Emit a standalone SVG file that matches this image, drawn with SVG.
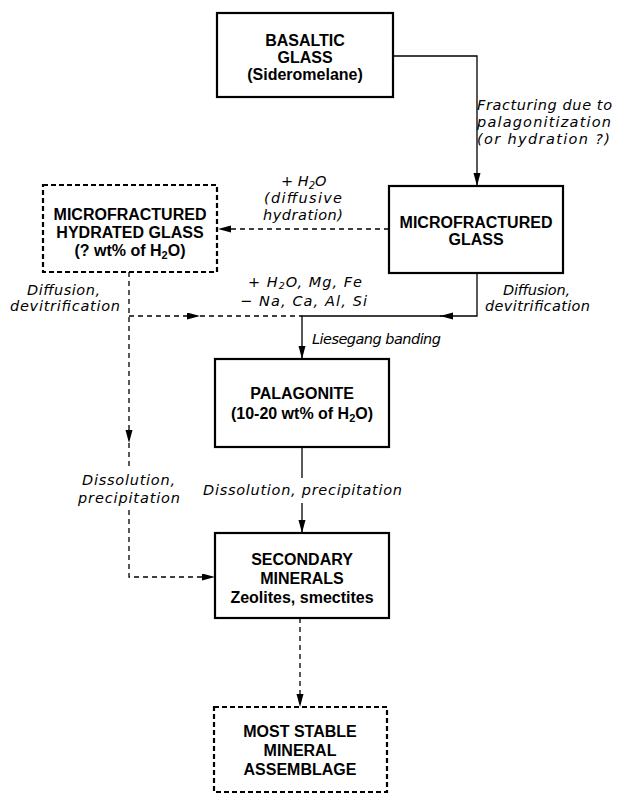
<svg xmlns="http://www.w3.org/2000/svg" width="624" height="794" viewBox="0 0 624 794">
<style>
  .box { fill: #fff; stroke: #000; stroke-width: 2.2; }
  .dbox { fill: #fff; stroke: #000; stroke-width: 2.2; stroke-dasharray: 5 3; }
  .nt { font-family: "Liberation Sans", Arial, sans-serif; font-weight: bold; font-size: 16px; text-anchor: middle; fill: #000; }
  .lb { font-family: "DejaVu Sans", "Liberation Sans", sans-serif; font-style: italic; font-size: 14.5px; fill: #000; }
  .ln { fill: none; stroke: #000; stroke-width: 1.3; }
  .dl { fill: none; stroke: #000; stroke-width: 1.3; stroke-dasharray: 5 4; }
</style>
<defs>
  <marker id="ah" markerUnits="userSpaceOnUse" markerWidth="14" markerHeight="8" refX="13" refY="3.5" orient="auto">
    <path d="M0,0 L13,3.5 L0,7 z" fill="#000"/>
  </marker>
</defs>
<rect width="624" height="794" fill="#fff"/>

<g id="connectors">
  <path class="ln" d="M393,56 H477 V186" marker-end="url(#ah)"/>
  <path class="dl" d="M389,229 H218" marker-end="url(#ah)"/>
  <path class="ln" d="M477,273 V316 H440" marker-end="url(#ah)"/>
  <path class="ln" d="M441,316 H302 V359" marker-end="url(#ah)"/>
  <path class="dl" d="M129,272 V443" marker-end="url(#ah)"/>
  <path class="dl" d="M129,443 V467"/>
  <path class="dl" d="M129,510 V577 H215" marker-end="url(#ah)"/>
  <path class="dl" d="M129,316 H200" marker-end="url(#ah)"/>
  <path class="dl" d="M200,316 H302"/>
  <path class="ln" d="M302,447 V478"/>
  <path class="ln" d="M302,503 V533" marker-end="url(#ah)"/>
  <path class="dl" d="M300,618 V707" marker-end="url(#ah)"/>
</g>

<g id="labels">
  <text class="lb" x="477" y="110" textLength="135">Fracturing due to</text>
  <text class="lb" x="477" y="127" textLength="134">palagonitization</text>
  <text class="lb" x="477" y="144" textLength="133">(or hydration ?)</text>
  <text class="lb" x="281" y="186">+ H<tspan dy="3" font-size="10">2</tspan><tspan dy="-3">O</tspan></text>
  <text class="lb" x="264" y="203" textLength="78">(diffusive</text>
  <text class="lb" x="263" y="220" textLength="80">hydration)</text>
  <text class="lb" x="248" y="287" font-size="14" letter-spacing="1">+ H<tspan dy="2" font-size="9.5">2</tspan><tspan dy="-2">O, Mg, Fe</tspan></text>
  <text class="lb" x="240" y="306" font-size="14" textLength="127">− Na, Ca, Al, Si</text>
  <text class="lb" x="27" y="295" textLength="73">Diffusion,</text>
  <text class="lb" x="10" y="311" textLength="110">devitrification</text>
  <text class="lb" x="503" y="295" textLength="67">Diffusion,</text>
  <text class="lb" x="485" y="311" textLength="105">devitrification</text>
  <text class="lb" x="312" y="344" textLength="129">Liesegang banding</text>
  <text class="lb" x="203" y="495" textLength="199">Dissolution, precipitation</text>
  <text class="lb" x="82" y="485" textLength="93">Dissolution,</text>
  <text class="lb" x="78" y="503" textLength="102">precipitation</text>
</g>

<g id="basaltic-glass">
  <rect class="box" x="217" y="13" width="176" height="84"/>
  <text class="nt" x="305" y="46">BASALTIC</text>
  <text class="nt" x="305" y="63">GLASS</text>
  <text class="nt" x="305" y="80">(Sideromelane)</text>
</g>

<g id="microfractured-glass">
  <rect class="box" x="389" y="186" width="174" height="87"/>
  <text class="nt" x="476" y="228">MICROFRACTURED</text>
  <text class="nt" x="476" y="245">GLASS</text>
</g>

<g id="microfractured-hydrated-glass">
  <rect class="dbox" x="43" y="185" width="174" height="87"/>
  <text class="nt" x="130" y="220">MICROFRACTURED</text>
  <text class="nt" x="130" y="238">HYDRATED GLASS</text>
  <text class="nt" x="130" y="256">(? wt% of H<tspan dy="3" font-size="11">2</tspan><tspan dy="-3">O)</tspan></text>
</g>

<g id="palagonite">
  <rect class="box" x="215" y="359" width="174" height="88"/>
  <text class="nt" x="302" y="399">PALAGONITE</text>
  <text class="nt" x="302" y="419">(10-20 wt% of H<tspan dy="3" font-size="11">2</tspan><tspan dy="-3">O)</tspan></text>
</g>

<g id="secondary-minerals">
  <rect class="box" x="215" y="533" width="174" height="85"/>
  <text class="nt" x="302" y="565">SECONDARY</text>
  <text class="nt" x="302" y="584">MINERALS</text>
  <text class="nt" x="302" y="603">Zeolites, smectites</text>
</g>

<g id="most-stable-mineral-assemblage">
  <rect class="dbox" x="214" y="707" width="173" height="85"/>
  <text class="nt" x="300" y="737">MOST STABLE</text>
  <text class="nt" x="300" y="756">MINERAL</text>
  <text class="nt" x="300" y="775">ASSEMBLAGE</text>
</g>
</svg>
